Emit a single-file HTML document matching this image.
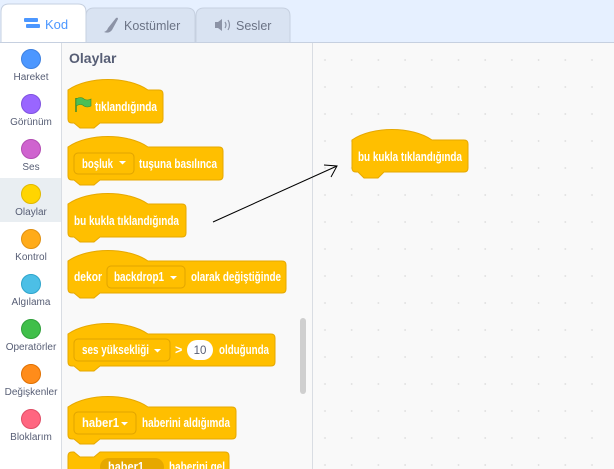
<!DOCTYPE html>
<html><head><meta charset="utf-8"><style>
html,body{margin:0;padding:0;width:614px;height:469px;overflow:hidden;background:#f9f9f9}
svg{display:block}
text{font-family:"Liberation Sans",sans-serif}
.bt{fill:#fff;font-weight:bold;font-size:12.5px}
.cl{fill:#575e75;font-size:10px}
.blk{fill:#ffbf00;stroke:#e6a800;stroke-width:1}
.dd{fill:#ffbf00;stroke:#e0a400;stroke-width:1}
</style></head><body>
<svg width="614" height="469" viewBox="0 0 614 469" xmlns="http://www.w3.org/2000/svg">
<defs>
<pattern id="dots" x="312" y="2" width="26.7" height="27" patternUnits="userSpaceOnUse">
<circle cx="13" cy="4" r="0.9" fill="#dcdcdc"/>
</pattern>
</defs>
<rect x="0" y="0" width="614" height="43" fill="#e6f0ff"/>
<path d="M86,43 V16 Q86,8 94,8 H187 Q195,8 195,16 V43 Z" fill="#d9e3f2" stroke="#c6d0e0"/>
<path d="M196,43 V16 Q196,8 204,8 H282 Q290,8 290,16 V43 Z" fill="#d9e3f2" stroke="#c6d0e0"/>
<path d="M1,43 V12 Q1,4 9,4 H78 Q86,4 86,12 V43 Z" fill="#fff" stroke="#c6d0e0"/>
<rect x="0" y="42" width="614" height="1" fill="#c6d0e0"/>
<g fill="#4c97ff"><rect x="24" y="18" width="14" height="4" rx="1"/><rect x="26" y="24" width="14" height="4" rx="1"/></g>
<text x="45" y="29" fill="#4c97ff" font-size="13">Kod</text>
<path d="M104,32 q3,-1 4,-4 l8,-10 q2,-1 2,1 l-6,11 q-3,4 -8,2z" fill="#8c93a6"/>
<text x="124" y="30" fill="#6b7385" font-size="12.5">Kostümler</text>
<path d="M215,22 h3 l4,-3 v12 l-4,-3 h-3z" fill="#8c93a6"/>
<path d="M225,22 q2,3 0,6 M228,20 q3,5 0,10" stroke="#8c93a6" fill="none" stroke-width="1.2"/>
<text x="236" y="30" fill="#6b7385" font-size="12.5">Sesler</text>
<rect x="0" y="43" width="61" height="426" fill="#fff"/>
<rect x="0" y="178" width="61" height="44" fill="#e9eef2"/>
<rect x="61" y="43" width="1" height="426" fill="#d9dde3"/>
<g stroke-width="1">
<circle cx="31" cy="59" r="9.5" fill="#4c97ff" stroke="#3d80e0"/>
<circle cx="31" cy="104" r="9.5" fill="#9966ff" stroke="#7f52e0"/>
<circle cx="31" cy="149" r="9.5" fill="#cf63cf" stroke="#b34cb3"/>
<circle cx="31" cy="194" r="9.5" fill="#ffd500" stroke="#e0b800"/>
<circle cx="31" cy="239" r="9.5" fill="#ffab19" stroke="#e09010"/>
<circle cx="31" cy="284" r="9.5" fill="#4cbfe6" stroke="#2ea5cc"/>
<circle cx="31" cy="329" r="9.5" fill="#40bf4a" stroke="#2fa03a"/>
<circle cx="31" cy="374" r="9.5" fill="#ff8c1a" stroke="#e07000"/>
<circle cx="31" cy="419" r="9.5" fill="#ff6680" stroke="#e04d66"/>
</g>
<g class="cl" text-anchor="middle">
<text x="31" y="80">Hareket</text>
<text x="31" y="125">Görünüm</text>
<text x="31" y="170">Ses</text>
<text x="31" y="215">Olaylar</text>
<text x="31" y="260">Kontrol</text>
<text x="31" y="305">Algılama</text>
<text x="31" y="350">Operatörler</text>
<text x="31" y="395">Değişkenler</text>
<text x="31" y="440">Bloklarım</text>
</g>
<rect x="62" y="43" width="250" height="426" fill="#f9f9f9"/>
<rect x="312" y="43" width="1" height="426" fill="#d9dde3"/>
<rect x="313" y="43" width="301" height="426" fill="url(#dots)"/>
<text x="69" y="63" fill="#575e75" font-size="14" font-weight="bold">Olaylar</text>
<rect x="300" y="318" width="6" height="76" rx="3" fill="#cfcfcf"/>

<path class="blk" d="M68,90 C88,76 128,76 148,90 H159 Q163,90 163,94 V119 Q163,123 159,123 H100 L94,128 H80 L74,123 H72 Q68,123 68,119 Z"/>
<path d="M76,98 v14" stroke="#3a8a2e" stroke-width="1.5"/>
<path d="M76,99 q5,-3 8,0 q3,2 7,0 v7 q-4,2 -7,0 q-3,-3 -8,0z" fill="#4cbf56" stroke="#3a8a2e" stroke-width="0.6"/>
<text class="bt" x="95" y="111" textLength="62" lengthAdjust="spacingAndGlyphs">tıklandığında</text>

<path class="blk" d="M68,147 C88,133 128,133 148,147 H219 Q223,147 223,151 V176 Q223,180 219,180 H100 L94,185 H80 L74,180 H72 Q68,180 68,176 Z"/>
<rect class="dd" x="74" y="153" width="60" height="21" rx="4"/>
<text class="bt" x="82" y="168" textLength="31" lengthAdjust="spacingAndGlyphs">boşluk</text>
<path d="M119,161 h7 l-3.5,3.5z" fill="#fff"/>
<text class="bt" x="139" y="168" textLength="78" lengthAdjust="spacingAndGlyphs">tuşuna basılınca</text>

<path class="blk" d="M68,204 C88,190 128,190 148,204 H182 Q186,204 186,208 V233 Q186,237 182,237 H100 L94,242 H80 L74,237 H72 Q68,237 68,233 Z"/>
<text class="bt" x="74" y="225" textLength="105" lengthAdjust="spacingAndGlyphs">bu kukla tıklandığında</text>

<path class="blk" d="M68,261 C88,247 128,247 148,261 H282 Q286,261 286,265 V289 Q286,293 282,293 H100 L94,298 H80 L74,293 H72 Q68,293 68,289 Z"/>
<text class="bt" x="74" y="281" textLength="28" lengthAdjust="spacingAndGlyphs">dekor</text>
<rect class="dd" x="107" y="266" width="78" height="22" rx="4"/>
<text class="bt" x="114" y="281" textLength="50" lengthAdjust="spacingAndGlyphs">backdrop1</text>
<path d="M170,276 h7 l-3.5,3.5z" fill="#fff"/>
<text class="bt" x="191" y="281" textLength="90" lengthAdjust="spacingAndGlyphs">olarak değiştiğinde</text>

<path class="blk" d="M68,334 C88,320 128,320 148,334 H271 Q275,334 275,338 V362 Q275,366 271,366 H100 L94,371 H80 L74,366 H72 Q68,366 68,362 Z"/>
<rect class="dd" x="74" y="339" width="96" height="22" rx="4"/>
<text class="bt" x="82" y="354" textLength="67" lengthAdjust="spacingAndGlyphs">ses yüksekliği</text>
<path d="M154,349 h7 l-3.5,3.5z" fill="#fff"/>
<text class="bt" x="175" y="354" font-weight="normal">&gt;</text>
<rect x="187" y="340" width="26" height="20" rx="10" fill="#fff"/>
<text x="200" y="354" text-anchor="middle" fill="#575e75" font-size="11.5">10</text>
<text class="bt" x="219" y="354" textLength="50" lengthAdjust="spacingAndGlyphs">olduğunda</text>

<path class="blk" d="M68,407 C88,393 128,393 148,407 H232 Q236,407 236,411 V435 Q236,439 232,439 H100 L94,444 H80 L74,439 H72 Q68,439 68,435 Z"/>
<rect class="dd" x="74" y="412" width="62" height="22" rx="4"/>
<text class="bt" x="82" y="427" textLength="37" lengthAdjust="spacingAndGlyphs">haber1</text>
<path d="M121,422 h7 l-3.5,3.5z" fill="#fff"/>
<text class="bt" x="142" y="427" textLength="88" lengthAdjust="spacingAndGlyphs">haberini aldığımda</text>

<path class="blk" d="M68,470 V456 Q68,452 72,452 H74 L80,457 H94 L100,452 H225 Q229,452 229,456 V470 Z"/>
<rect x="100" y="458" width="64" height="18" rx="9" fill="#e6a800"/>
<text class="bt" x="108" y="471" textLength="36" lengthAdjust="spacingAndGlyphs">haber1</text>
<text class="bt" x="169" y="471" textLength="56" lengthAdjust="spacingAndGlyphs">haberini gel</text>

<path class="blk" d="M352,140 C372,126 412,126 432,140 H464 Q468,140 468,144 V168 Q468,172 464,172 H384 L378,178 H364 L358,172 H356 Q352,172 352,168 Z"/>
<text class="bt" x="358" y="161" textLength="104" lengthAdjust="spacingAndGlyphs">bu kukla tıklandığında</text>

<line x1="213" y1="222" x2="337" y2="166" stroke="#000" stroke-width="1"/>
<path d="M324,165 L337,166 L331,177" stroke="#000" fill="none" stroke-width="1"/>
</svg>
</body></html>
